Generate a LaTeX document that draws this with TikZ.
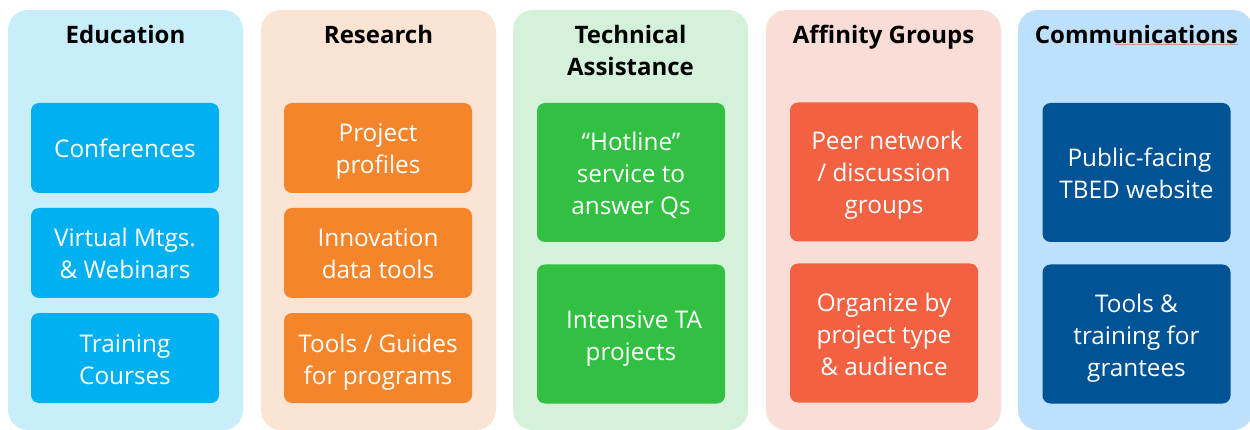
\documentclass[tikz,border=0pt]{standalone}
\usepackage{fontspec}
\setmainfont{Open Sans}
\definecolor{eduBg}{HTML}{C8EEFC}
\definecolor{eduBox}{HTML}{00B0F0}
\definecolor{resBg}{HTML}{FCE4D4}
\definecolor{resBox}{HTML}{F5852A}
\definecolor{tecBg}{HTML}{D4F2D9}
\definecolor{tecBox}{HTML}{32C042}
\definecolor{affBg}{HTML}{FBDDD7}
\definecolor{affBox}{HTML}{F26141}
\definecolor{comBg}{HTML}{BDE0FC}
\definecolor{comBox}{HTML}{005496}
\definecolor{squig}{HTML}{D88A9E}
% line strut: 26pt above, 6pt below the baseline (one 32pt line)
\newcommand\ls{\rule[-6pt]{0pt}{32pt}}
\newcommand\lsp{\rule[-6pt]{0pt}{32pt}\hspace*{6pt}}
\tikzset{
  colbg/.style={fill=#1, draw=none, rounded corners=20pt, inner sep=0pt,
    minimum width=235pt, minimum height=420pt},
  title/.style={anchor=north, inner sep=0pt, align=center, text=black,
    font={\fontsize{24}{32}\selectfont\bfseries}},
  item/.style={fill=#1, draw=none, rounded corners=8pt, inner sep=0pt,
    minimum width=188pt, text=white, align=center,
    font={\fontsize{24.3}{32}\selectfont}},
  short/.style={minimum height=90pt},
  tall/.style={minimum height=139pt}
}
\begin{document}
\begin{tikzpicture}[x=1pt,y=-1pt]
\useasboundingbox (0,0) rectangle (1250,430);
\fill[white] (0,0) rectangle (1250,430);
% column backgrounds
\node[colbg=eduBg] (bgEdu) at (125.5,220) {};
\node[colbg=resBg] (bgRes) at (378.5,220) {};
\node[colbg=tecBg] (bgTec) at (630.5,220) {};
\node[colbg=affBg] (bgAff) at (883.5,220) {};
\node[colbg=comBg] (bgCom) at (1135.5,220) {};
% titles
\node[title] (tEdu) at (125.5,17) {\ls Education};
\node[title] (tRes) at (378.5,17) {\ls Research};
\node[title] (tTec) at (630.5,17) {\ls Technical\\\ls Assistance};
\node[title] (tAff) at (883.5,17) {\ls Affinity Groups};
\node[title] (tCom) at (1136.5,17) {\ls Communications};
\draw[squig, line width=0.7pt] (1115,44.5) -- (1238,44.5);
% Education
\node[item=eduBox, short] (e1) at (125,148) {\ls Conferences};
\node[item=eduBox, short] (e2) at (125,253) {\ls Virtual Mtgs.\\\ls \& Webinars};
\node[item=eduBox, short] (e3) at (125,358) {\ls Training\\\ls Courses};
% Research
\node[item=resBox, short] (r1) at (378,148) {\ls Project\\\ls profiles};
\node[item=resBox, short] (r2) at (378,253) {\ls Innovation\\\ls data tools};
\node[item=resBox, short] (r3) at (378,358) {\ls Tools / Guides\\\ls for programs};
% Technical Assistance
\node[item=tecBox, tall] (t1) at (631,172.5) {\ls “Hotline”\\\ls service to\\\ls answer Qs};
\node[item=tecBox, tall] (t2) at (631,334) {\lsp Intensive TA\\\ls projects};
% Affinity Groups
\node[item=affBox, tall] (a1) at (884,172) {\lsp Peer network\\\ls / discussion\\\ls groups};
\node[item=affBox, tall] (a2) at (884,333) {\ls Organize by\\\ls project type\\\ls \& audience};
% Communications
\node[item=comBox, tall] (c1) at (1136.5,172.5) {\lsp Public-facing\\\ls TBED website};
\node[item=comBox, tall] (c2) at (1136.5,334) {\ls Tools \&\\\ls training for\\\ls grantees};
\end{tikzpicture}
\end{document}
